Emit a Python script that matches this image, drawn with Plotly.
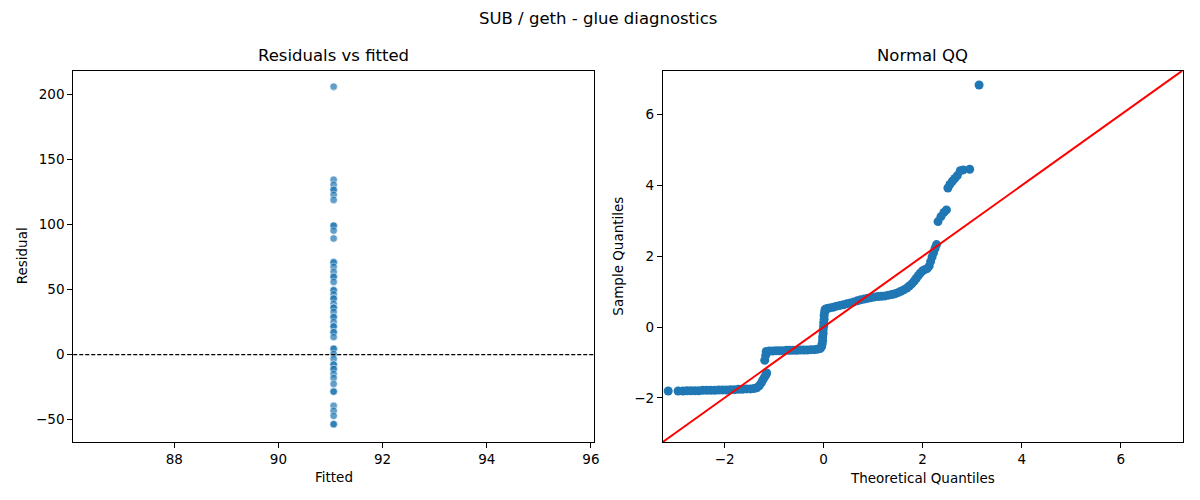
import plotly.graph_objects as go
from plotly.subplots import make_subplots

# residuals vs fitted (intercept-only model -> single fitted value)
fitted_value = 91.06
residuals = [
    205.8, 134.3, 130.4, 126.5, 126.5, 122.7, 118.8,
    99.0, 99.0, 95.2, 89.2,
    70.8, 70.8, 67.4, 63.5, 59.7, 59.7, 55.8,
    49.4, 49.4, 46.3, 43.0, 43.0, 39.1, 36.0, 36.0, 32.7,
    28.8, 28.8, 24.9, 21.6, 21.6, 17.2, 17.2, 13.4,
    4.4, 4.4, 0.5, -3.3, -7.7, -7.7, -11.1, -11.1, -14.9, -18.0, -22.6,
    -28.5, -28.5, -39.4, -43.2, -47.1, -53.5, -53.5,
]

# normal QQ (theoretical quantile, standardized residual)
qq_theoretical = [
    -3.14, -2.94, -2.84, -2.76, -2.68, -2.60, -2.52, -2.44, -2.36, -2.28,
    -2.20, -2.12, -2.04, -1.96, -1.88, -1.80, -1.72, -1.64, -1.56, -1.48,
    -1.41, -1.35, -1.30, -1.26, -1.23, -1.20, -1.17, -1.15,
    -1.19, -1.17, -1.16, -1.10, -1.03, -0.96, -0.89, -0.82, -0.75, -0.68,
    -0.61, -0.54, -0.47, -0.40, -0.33, -0.26, -0.19, -0.13, -0.07, -0.04,
    -0.03, -0.02, -0.02, -0.01, -0.01, 0.00, 0.00, 0.01, 0.01, 0.02,
    0.03, 0.07, 0.12, 0.19, 0.26, 0.33, 0.40, 0.47, 0.54, 0.61,
    0.68, 0.75, 0.82, 0.89, 0.96, 1.03, 1.10, 1.17, 1.24, 1.31,
    1.38, 1.44, 1.50, 1.56, 1.62, 1.68, 1.73, 1.78, 1.83, 1.87,
    1.91, 1.95, 1.99, 2.04, 2.09, 2.13, 2.16, 2.19, 2.22, 2.25,
    2.28, 2.31, 2.37, 2.43, 2.48, 2.51, 2.55, 2.60, 2.65, 2.70,
    2.76, 2.82, 2.95, 3.14,
]
qq_sample = [
    -1.81, -1.81, -1.81, -1.80, -1.80, -1.80, -1.80, -1.79, -1.79, -1.79,
    -1.79, -1.78, -1.78, -1.78, -1.77, -1.77, -1.76, -1.76, -1.75, -1.75,
    -1.74, -1.72, -1.66, -1.58, -1.50, -1.43, -1.36, -1.30,
    -0.94, -0.80, -0.69, -0.68, -0.68, -0.67, -0.67, -0.67, -0.66, -0.66,
    -0.66, -0.66, -0.65, -0.65, -0.65, -0.64, -0.64, -0.63, -0.61, -0.55,
    -0.47, -0.38, -0.28, -0.18, -0.08, 0.02, 0.12, 0.22, 0.32, 0.42,
    0.50, 0.52, 0.54, 0.56, 0.59, 0.61, 0.63, 0.66, 0.68, 0.71,
    0.74, 0.77, 0.79, 0.81, 0.83, 0.85, 0.86, 0.87, 0.88, 0.90,
    0.92, 0.94, 0.97, 1.01, 1.05, 1.10, 1.16, 1.22, 1.30, 1.37,
    1.45, 1.52, 1.58, 1.62, 1.65, 1.72, 1.85, 1.98, 2.10, 2.22,
    2.33, 2.98, 3.12, 3.24, 3.31, 3.93, 4.03, 4.12, 4.20, 4.28,
    4.42, 4.44, 4.46, 6.84,
]

resid_xrange = [86.06, 96.06]
resid_yrange = [-67.2, 218.2]
qq_range = [-3.25, 7.25]

blue = "#1f77b4"
font = "DejaVu Sans"

fig = make_subplots(rows=1, cols=2)

fig.add_trace(
    go.Scatter(
        x=[fitted_value] * len(residuals),
        y=residuals,
        mode="markers",
        marker=dict(color=blue, size=7.5, opacity=0.7, line=dict(color="white", width=0.6)),
        showlegend=False,
    ),
    row=1,
    col=1,
)

fig.add_trace(
    go.Scatter(
        x=qq_theoretical,
        y=qq_sample,
        mode="markers",
        marker=dict(color=blue, size=9),
        showlegend=False,
    ),
    row=1,
    col=2,
)

# 45 degree reference line across the axes
fig.add_trace(
    go.Scatter(
        x=qq_range,
        y=qq_range,
        mode="lines",
        line=dict(color="red", width=2),
        showlegend=False,
    ),
    row=1,
    col=2,
)

fig.add_shape(
    type="line",
    xref="x domain",
    yref="y",
    x0=0,
    x1=1,
    y0=0,
    y1=0,
    line=dict(color="black", width=1.2, dash="4px,2px"),
    layer="above",
)

axis_style = dict(
    showline=True,
    linecolor="black",
    linewidth=1,
    mirror=True,
    ticks="outside",
    ticklen=5,
    tickcolor="black",
    showgrid=False,
    zeroline=False,
    tickfont=dict(family=font, size=13.5, color="black"),
)

fig.update_xaxes(axis_style)
fig.update_yaxes(axis_style)

fig.update_layout(
    xaxis=dict(domain=[0.0613, 0.4971], range=resid_xrange, tickvals=[88, 90, 92, 94, 96]),
    yaxis=dict(domain=[0.116, 0.859], range=resid_yrange, tickvals=[-50, 0, 50, 100, 150, 200]),
    xaxis2=dict(domain=[0.5546, 0.9896], range=qq_range, tickvals=[-2, 0, 2, 4, 6]),
    yaxis2=dict(domain=[0.116, 0.859], range=qq_range, tickvals=[-2, 0, 2, 4, 6]),
    width=1200,
    height=500,
    margin=dict(l=0, r=0, t=0, b=0),
    plot_bgcolor="white",
    paper_bgcolor="white",
    font=dict(family=font, color="black"),
)

labels = [
    dict(text="SUB / geth - glue diagnostics", x=0.5, y=0.964, size=16.5, angle=0),
    dict(text="Residuals vs fitted", x=0.2792, y=0.888, size=16.5, angle=0),
    dict(text="Normal QQ", x=0.7721, y=0.888, size=16.5, angle=0),
    dict(text="Fitted", x=0.2792, y=0.046, size=13.5, angle=0),
    dict(text="Theoretical Quantiles", x=0.7721, y=0.044, size=13.5, angle=0),
    dict(text="Residual", x=0.0185, y=0.4875, size=13.5, angle=-90),
    dict(text="Sample Quantiles", x=0.5175, y=0.4875, size=13.5, angle=-90),
]
for lab in labels:
    fig.add_annotation(
        text=lab["text"],
        x=lab["x"],
        y=lab["y"],
        xref="paper",
        yref="paper",
        xanchor="center",
        yanchor="middle",
        showarrow=False,
        textangle=lab["angle"],
        font=dict(family=font, size=lab["size"], color="black"),
    )

# drop the default page margin so the figure sits at the window origin
fig.write_html(
    "out.html",
    config={"displayModeBar": False},
    post_script="document.body.style.margin='0';",
)
